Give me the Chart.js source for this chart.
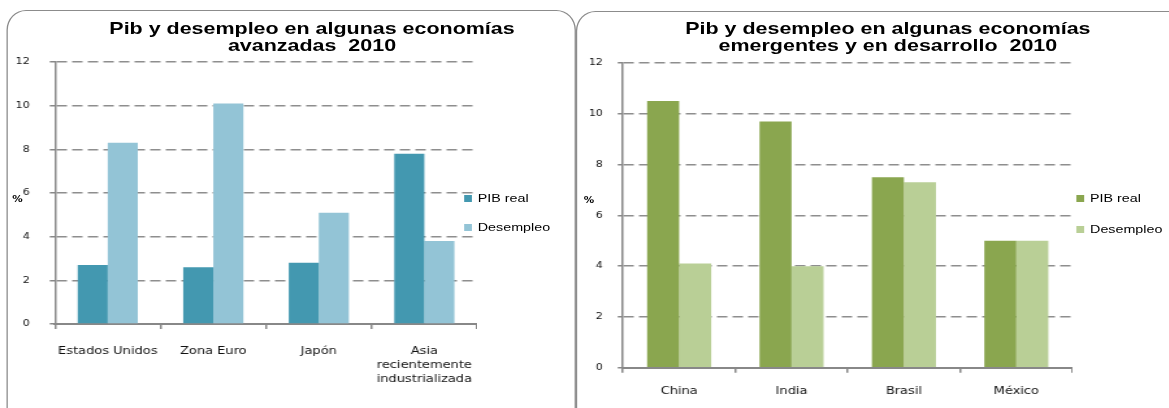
<!DOCTYPE html>
<html>
<head>
<meta charset="utf-8">
<script src="https://cdn.jsdelivr.net/npm/chart.js@4.4.1/dist/chart.umd.min.js"></script>
<style>
    body { margin: 0; background: #fff; overflow: hidden; }
    #lienzo {
        position: absolute; left: 0; top: 0; width: 899px; height: 408px;
        transform: scaleX(1.3); transform-origin: 0 0;
    }
    .caja { position: absolute; border: 1.5px solid #8c8c8c; border-radius: 15px / 20px; background: #fff; }
    .titulo {
        position: absolute; width: 420px; text-align: center; white-space: pre;
        font: bold 16.5px/17px "Liberation Sans", Arial, sans-serif; color: #000;
    }
    .leyenda { position: absolute; font: 11px/14px "Liberation Sans", Arial, sans-serif; color: #000; }
    .leyenda div { position: absolute; white-space: nowrap; }
    .leyenda span { position: absolute; width: 6px; height: 7px; }
    .pct { position: absolute; font: bold 8px "DejaVu Sans", sans-serif; color: #000; }
    canvas { position: absolute; }
</style>
</head>
<body>
<div id="lienzo">
    <div class="caja" style="left:5.4px; top:10px; width:436px; height:420px"></div>
    <div class="caja" style="left:443px; top:11px; width:480px; height:420px"></div>

    <div class="titulo" style="left:30px; top:19.5px">Pib y desempleo en algunas economías
avanzadas  2010</div>
    <div class="titulo" style="left:473px; top:19.5px">Pib y desempleo en algunas economías
emergentes y en desarrollo  2010</div>

    <div class="pct" style="left:9.5px; top:195px">%</div>
    <div class="pct" style="left:449px; top:196px">%</div>

    <canvas id="chartAvanzadas" width="367" height="358" style="left:0; top:50px; width:367px; height:358px"></canvas>
    <canvas id="chartEmergentes" width="382" height="357" style="left:443px; top:51px; width:382px; height:357px"></canvas>

    <div class="leyenda" id="leyendaAvanzadas" style="left:357px; top:0"></div>
    <div class="leyenda" id="leyendaEmergentes" style="left:828px; top:0"></div>
</div>

<script>
// economías avanzadas
var categoriasAvanzadas = ['Estados Unidos', 'Zona Euro', 'Japón', ['Asia', 'recientemente', 'industrializada']]
var pibAvanzadas = [2.7, 2.6, 2.8, 7.8]
var desempleoAvanzadas = [8.3, 10.1, 5.1, 3.8]

// economías emergentes
var categoriasEmergentes = ['China', 'India', 'Brasil', 'México']
var pibEmergentes = [10.5, 9.7, 7.5, 5.0]
var desempleoEmergentes = [4.1, 4.0, 7.3, 5.0]

var nombresSeries = ['PIB real', 'Desempleo']
var ticksY = [0, 2, 4, 6, 8, 10, 12]

function crearGrafico(canvas, categorias, pib, desempleo, cores, anchoEjeY, altoEjeX, paddingX, paddingY) {
    return new Chart(canvas, {
        type: 'bar',
        data: {
            labels: categorias,
            datasets: [{
                label: nombresSeries[0],
                data: pib,
                backgroundColor: cores[0],
                borderWidth: 0,
                categoryPercentage: 0.57,
                barPercentage: 1
            }, {
                label: nombresSeries[1],
                data: desempleo,
                backgroundColor: cores[1],
                borderWidth: 0,
                categoryPercentage: 0.57,
                barPercentage: 1
            }]
        },
        options: {
            responsive: false,
            animation: false,
            layout: { autoPadding: false, padding: { top: 12, left: 0, right: 0, bottom: 0 } },
            plugins: {
                legend: { display: false },
                title: { display: false },
                tooltip: { enabled: false }
            },
            scales: {
                x: {
                    afterFit: (scale) => {
                        scale.height = altoEjeX
                        scale.paddingLeft = 0
                        scale.paddingRight = 0
                    },
                    grid: {
                        display: true,
                        drawOnChartArea: false,
                        drawTicks: true,
                        tickLength: 5,
                        color: '#888',
                        lineWidth: 1.5
                    },
                    border: { display: true, color: '#888', width: 2 },
                    ticks: {
                        color: '#111',
                        padding: paddingX,
                        font: { family: 'DejaVu Sans', size: 10, lineHeight: 1.4 },
                        maxRotation: 0,
                        autoSkip: false
                    }
                },
                y: {
                    min: ticksY[0],
                    max: ticksY[ticksY.length - 1],
                    afterFit: (scale) => {
                        // el padding de los ticks no debe mover el area del grafico
                        scale.width = anchoEjeY
                        scale.paddingTop = 0
                        scale.paddingBottom = 0
                    },
                    afterBuildTicks: (scale) => { scale.ticks = ticksY.map(v => ({ value: v })) },
                    grid: {
                        color: '#8e8e8e',
                        lineWidth: 1.5,
                        tickLength: 4,
                        tickColor: '#888',
                        tickBorderDash: []
                    },
                    // en v4 el dash del borde es el de las lineas de la grilla
                    border: { display: true, color: '#888', width: 1.5, dash: [8, 4] },
                    ticks: {
                        color: '#111',
                        padding: paddingY,
                        font: { family: 'DejaVu Sans', size: 8.5 }
                    }
                }
            }
        }
    })
}

function crearLeyenda(div, cores, filas) {
    nombresSeries.forEach((nombre, index) => {
        const fila = document.createElement('div')
        fila.style.top = (filas[index] - 7) + 'px'
        fila.style.left = '0px'
        fila.innerHTML = '<span style="left:0; top:3.5px; background:' + cores[index] + '"></span>' +
            '<b style="font-weight:normal; position:absolute; left:10.5px; top:0">' + nombre + '</b>'
        div.appendChild(fila)
    })
}

var coresAvanzadas = ['#4398b0', '#93c4d6']
var coresEmergentes = ['#8aa64f', '#b9cf96']

var graficoAvanzadas, graficoEmergentes

document.addEventListener('DOMContentLoaded', () => {
    graficoAvanzadas = crearGrafico(document.getElementById('chartAvanzadas'),
        categoriasAvanzadas, pibAvanzadas, desempleoAvanzadas, coresAvanzadas, 42.3, 84, 15, 15.5)

    graficoEmergentes = crearGrafico(document.getElementById('chartEmergentes'),
        categoriasEmergentes, pibEmergentes, desempleoEmergentes, coresEmergentes, 36.2, 40.3, 12, 11.5)

    crearLeyenda(document.getElementById('leyendaAvanzadas'), coresAvanzadas, [198, 227])
    crearLeyenda(document.getElementById('leyendaEmergentes'), coresEmergentes, [198, 229])
})
</script>
</body>
</html>
